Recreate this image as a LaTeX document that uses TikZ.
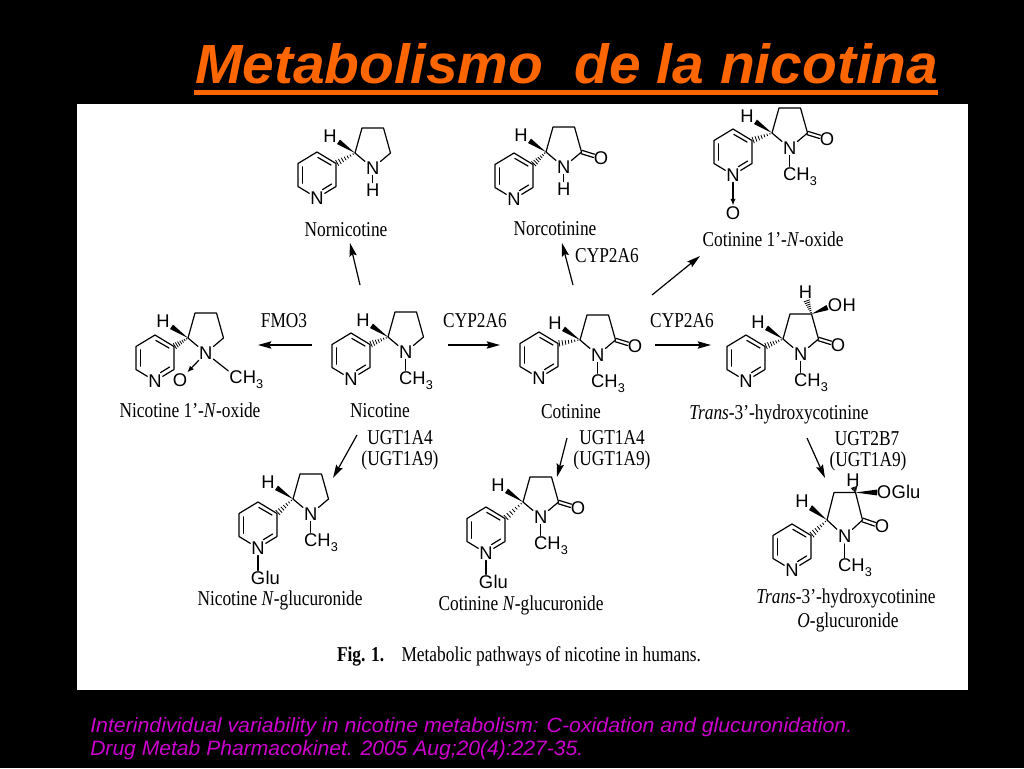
\documentclass[tikz,border=0pt]{standalone}
\usepackage{fontspec}
\usepackage{graphicx}
\setmainfont{Liberation Serif}
\newfontfamily\sansfam{Liberation Sans}
\usetikzlibrary{calc,arrows.meta}
\definecolor{titleorange}{RGB}{255,102,0}
\definecolor{capmagenta}{RGB}{204,0,204}
\newcommand\atomfont{\sansfam\fontsize{13.8}{15}\selectfont}
\newcommand\lblfont{\rmfamily\fontsize{13}{15}\selectfont}
\newcommand\vs[1]{\scalebox{1}[1.22]{#1}}
\newcommand\subs[1]{\raisebox{-0.28em}{\fontsize{9.5}{10}\selectfont #1}}
\tikzset{
  bond/.style={line width=0.9pt, line cap=round, line join=round},
  atom/.style={font=\atomfont, inner sep=0.6pt, text=black},
  tail/.style={font=\atomfont, inner sep=0pt, text=black, anchor=base west},
  lbl/.style={font=\lblfont, inner sep=0pt, anchor=base, text=black},
  rarrow/.style={line width=0.9pt, -{Stealth[length=10pt,width=5.5pt,inset=1.5pt]}},
  dative/.style={bond, -{Latex[length=5pt,width=4pt]}},
  pyr/.pic={
    \coordinate (-v1) at (0,-23);
    \coordinate (-v2) at (19,-11.5);
    \coordinate (-v3) at (19,11.5);
    \node[atom] (-N) at (0,23) {N};
    \coordinate (-v5) at (-19,11.5);
    \coordinate (-v6) at (-19,-11.5);
    \draw[bond] (-N) -- (-v3) -- (-v2) -- (-v1) -- (-v6) -- (-v5) -- (-N);
    \draw[bond] (0.8,-17.6) -- (14,-10);
    \draw[bond] (-14.6,-8.2) -- (-14.6,8.2);
    \draw[bond] (14.6,9) -- (5.5,14.6);
  }
}
\newcommand\hashb[2]{%
  \foreach \t in {0.1,0.24,0.38,0.52,0.66,0.8,0.94}{%
    \path (#1) -- (#2) coordinate[pos=\t] (hp);
    \draw[line width=0.6pt] ($(hp)!{0.3pt+\t*2.3pt}!90:(#2)$) -- ($(hp)!{0.3pt+\t*2.3pt}!-90:(#2)$);
  }}
\newcommand\wedgeb[2]{\fill (#1) -- ($(#2)!2pt!90:(#1)$) -- ($(#2)!2pt!-90:(#1)$) -- cycle;}
\newcommand\dbl[2]{%
  \draw[bond, shorten >=5.5pt] ($(#1)!1.3pt!90:(#2)$) -- ($(#2)!1.3pt!-90:(#1)$);
  \draw[bond, shorten >=5.5pt] ($(#1)!1.3pt!-90:(#2)$) -- ($(#2)!1.3pt!90:(#1)$);}
\newcommand\core[3]{%
  \pic (#1) at (#2,#3) {pyr};
  \coordinate (#1a) at (0,0);
  \coordinate (#1b) at (7,-25);
  \coordinate (#1c) at (28.5,-25);
  \coordinate (#1d) at (35.5,0);
  \node[atom] (#1n) at (17.7,15) {N};
  \node[atom] (#1h) at (-25,-17) {H};
  \coordinate (#1hw) at (-16.5,-11.2);
  \draw[bond] (#1n) -- (#1a) -- (#1b) -- (#1c) -- (#1d) -- (#1n);
  \wedgeb{#1a}{#1hw}
  \hashb{#1a}{#1-v2}}
\newcommand\methyl[1]{%
  \node[atom] (#1m) at (17.7,41) {C};
  \node[tail] (#1mh) at ([xshift=-0.9pt]#1m.base east) {H\subs{3}};
  \draw[bond] (#1n) -- (#1m);}
\newcommand\carbonyl[1]{%
  \node[atom] (#1o) at (55,6) {O};
  \dbl{#1d}{#1o}}
\newcommand\nh[1]{%
  \node[atom] (#1nh) at (17.7,37) {H};
  \draw[bond] (#1n) -- (#1nh);}
\begin{document}
\begin{tikzpicture}[x=0.75pt,y=-0.75pt]
\useasboundingbox (0,0) rectangle (1024,768);
\fill[black] (0,0) rectangle (1024,768);
\fill[white] (77,104) rectangle (968,690);

% title
\node[anchor=base west, inner sep=0pt, text=titleorange] (title) at (195,83)
  {\resizebox{557.25pt}{30pt}{\sansfam\bfseries\itshape Metabolismo\ \ de la nicotina}};
\fill[titleorange] (194,90) rectangle (938,95);

% reference
\node[anchor=base west, inner sep=0pt, text=capmagenta] (cap1) at (90,732)
  {\resizebox{571.5pt}{11.2pt}{\sansfam\itshape Interindividual variability in nicotine metabolism: C-oxidation and glucuronidation.}};
\node[anchor=base west, inner sep=0pt, text=capmagenta] (cap2) at (90,755)
  {\resizebox{369.75pt}{11.3pt}{\sansfam\itshape Drug Metab Pharmacokinet. 2005 Aug;20(4):227-35.}};

% Nicotine
\begin{scope}[shift={(388,337)}]
  \core{m1}{-37}{19}\methyl{m1}
\end{scope}
% Cotinine
\begin{scope}[shift={(580,340)}]
  \core{m2}{-41}{15}\methyl{m2}\carbonyl{m2}
\end{scope}
% Nornicotine
\begin{scope}[shift={(355,153)}]
  \core{m3}{-38}{22}\nh{m3}
\end{scope}
% Norcotinine
\begin{scope}[shift={(546,152)}]
  \core{m4}{-32}{24}\nh{m4}\carbonyl{m4}
\end{scope}
% Cotinine 1'-N-oxide
\begin{scope}[shift={(772,133)}]
  \core{m5}{-39}{19}\methyl{m5}\carbonyl{m5}
  \node[atom] (m5ox) at (-39,80) {O};
  \draw[dative] (m5-N) -- (m5ox);
\end{scope}
% Nicotine 1'-N-oxide
\begin{scope}[shift={(188,338)}]
  \core{m6}{-33}{20}
  \node[atom] (m6m) at (48,39) {C};
  \node[tail] (m6mh) at ([xshift=-0.9pt]m6m.base east) {H\subs{3}};
  \draw[bond] (m6n) -- (m6m);
  \node[atom] (m6ox) at (-8,42) {O};
  \draw[dative] (m6n) -- (m6ox);
\end{scope}
% Trans-3'-hydroxycotinine
\begin{scope}[shift={(783,339)}]
  \core{m7}{-37}{19}\methyl{m7}\carbonyl{m7}
  \node[atom] (m7hh) at (22.5,-47) {H};
  \coordinate (m7hw) at (23.5,-39);
  \hashb{m7c}{m7hw}
  \node[atom] (m7o) at (52,-34) {O};
  \node[tail] (m7oh) at ([xshift=-0.6pt]m7o.base east) {H};
  \coordinate (m7ow) at (44.5,-31.5);
  \wedgeb{m7c}{m7ow}
\end{scope}
% Nicotine N-glucuronide
\begin{scope}[shift={(293,499)}]
  \core{m8}{-35}{26}\methyl{m8}
  \node[atom] (m8g) at (-35,79) {G};
  \node[tail] (m8gl) at ([xshift=-0.7pt]m8g.base east) {lu};
  \draw[bond] (m8-N) -- (m8g);
\end{scope}
% Cotinine N-glucuronide
\begin{scope}[shift={(523,502)}]
  \core{m9}{-37}{28}\methyl{m9}\carbonyl{m9}
  \node[atom] (m9g) at (-37,80) {G};
  \node[tail] (m9gl) at ([xshift=-0.7pt]m9g.base east) {lu};
  \draw[bond] (m9-N) -- (m9g);
\end{scope}
% Trans-3'-hydroxycotinine O-glucuronide
\begin{scope}[shift={(827,520)}, yscale=1.1]
  \core{m10}{-35}{24.5}\methyl{m10}\carbonyl{m10}
  \node[atom] (m10hh) at (26,-36) {H};
  \coordinate (m10hw) at (27,-30);
  \hashb{m10c}{m10hw}
  \node[atom] (m10o) at (57,-25) {O};
  \node[tail] (m10og) at ([xshift=-0.6pt]m10o.base east) {Glu};
  \coordinate (m10ow) at (50,-25);
  \wedgeb{m10c}{m10ow}
\end{scope}

% compound names
\node[lbl] (lnornic) at (346,236) {\vs{Nornicotine}};
\node[lbl] (lnorcot) at (555,235) {\vs{Norcotinine}};
\node[lbl] (lcotox) at (773,246) {\vs{Cotinine 1'-\textit{N}-oxide}};
\node[lbl] (lnicox) at (190,417) {\vs{Nicotine 1'-\textit{N}-oxide}};
\node[lbl] (lnic) at (380,417) {\vs{Nicotine}};
\node[lbl] (lcot) at (571,418) {\vs{Cotinine}};
\node[lbl] (lhc) at (779,419) {\vs{\textit{Trans}-3'-hydroxycotinine}};
\node[lbl] (lnicg) at (280,605) {\vs{Nicotine \textit{N}-glucuronide}};
\node[lbl] (lcotg) at (521,610) {\vs{Cotinine \textit{N}-glucuronide}};
\node[lbl] (lhcg1) at (846,603) {\vs{\textit{Trans}-3'-hydroxycotinine}};
\node[lbl] (lhcg2) at (848,627) {\vs{\textit{O}-glucuronide}};
\node[lbl] (lfig) at (519,661) {\vs{\textbf{Fig. 1.}\quad Metabolic pathways of nicotine in humans.}};

% enzymes
\node[lbl] (e1) at (284,327) {\vs{FMO3}};
\node[lbl] (e2) at (475,327) {\vs{CYP2A6}};
\node[lbl] (e3) at (682,327) {\vs{CYP2A6}};
\node[lbl] (e4) at (607,262) {\vs{CYP2A6}};
\node[lbl] (e5) at (400,444) {\vs{UGT1A4}};
\node[lbl] (e5b) at (400,465) {\vs{(UGT1A9)}};
\node[lbl] (e6) at (612,444) {\vs{UGT1A4}};
\node[lbl] (e6b) at (612,465) {\vs{(UGT1A9)}};
\node[lbl] (e7) at (867,445) {\vs{UGT2B7}};
\node[lbl] (e7b) at (868,466) {\vs{(UGT1A9)}};

% reaction arrows
\coordinate (a1s) at (360,285); \coordinate (a1e) at (350,243);
\coordinate (a2s) at (573,285); \coordinate (a2e) at (562,243);
\coordinate (a3s) at (652,295); \coordinate (a3e) at (700,256);
\coordinate (a4s) at (312,345); \coordinate (a4e) at (258,345);
\coordinate (a5s) at (448,345); \coordinate (a5e) at (500,345);
\coordinate (a6s) at (655,345); \coordinate (a6e) at (711,345);
\coordinate (a7s) at (357,435); \coordinate (a7e) at (333,478);
\coordinate (a8s) at (567,438); \coordinate (a8e) at (557,477);
\coordinate (a9s) at (807,438); \coordinate (a9e) at (825,478);
\foreach \i in {1,...,9}{\draw[rarrow] (a\i s) -- (a\i e);}
\end{tikzpicture}
\end{document}
